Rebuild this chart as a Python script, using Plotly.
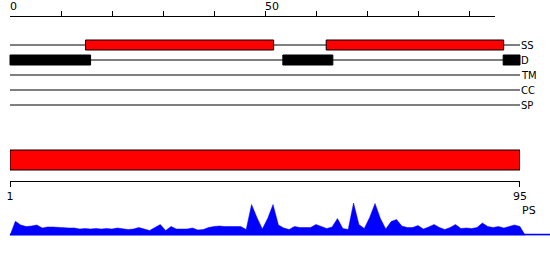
import plotly.graph_objects as go

# ---------------- data ----------------
TRACKS = ["SS", "D", "TM", "CC", "SP"]
SS_START = [14.8, 62.0]
SS_END = [51.7, 96.8]
D_START = [0.0, 53.5, 96.7]
D_END = [15.8, 63.3, 100.0]
TRACK_LEN = 100
RULER_MAX = 95
RULER_TICKS = [0, 10, 20, 30, 40, 50, 60, 70, 80, 90]
RULER_LABELS = [0, 50]
SEQ_START = 1
SEQ_END = 95
PS_POS = list(range(0, 97))
PS_SCORE = [0, 14.3, 10.5, 9, 9.5, 10.5, 7.5, 8.5, 8.5, 8, 7.5, 7.5, 7.5, 6.5, 7,
            6.5, 7, 6.5, 7, 6.5, 7.5, 6.5, 6, 6.5, 8, 6.5, 5, 8, 11, 5, 9,
            6.5, 6.5, 6.5, 7.5, 5.5, 6, 8, 9, 9.5, 9, 9, 9, 9, 6, 31, 18, 6.5,
            17, 31, 10.5, 7.5, 6, 9, 8, 8, 8, 11, 9, 7, 8.5, 17, 7, 6, 32.5,
            11, 7, 18, 32, 17, 6.5, 14, 16, 9.5, 8, 8, 10, 6.5, 8.5, 11, 8, 6,
            8, 11, 7, 7.5, 7, 8, 12.5, 9, 8, 9, 7.5, 9, 10.5, 9, 0]

# ---------------- layout constants ----------------
W, H = 550, 260
LEFT = 10
TRACK_PX = 5.1          # px per track unit
AREA_PX = 5.368         # px per residue in profile
ROW0, ROW_H = 45, 15    # first track row, row spacing
BOX_H = 10
RULER_Y = 15
SEQBAR_Y0, SEQBAR_Y1 = 150, 170
SEQAXIS_Y = 180.5
PS_BASE, PS_TOP = 235.5, 200.5
FONT = "DejaVu Sans"

fig = go.Figure()

# profile area (x4 / y2)
fig.add_trace(go.Scatter(x=PS_POS, y=PS_SCORE, xaxis="x4", yaxis="y2",
                         mode="lines", fill="tozeroy", fillcolor="#0000ff",
                         line=dict(color="#0000ff", width=0.5),
                         hoverinfo="skip", showlegend=False))
# helper traces so the ruler subplots exist
fig.add_trace(go.Scatter(x=RULER_TICKS, y=[0.5] * len(RULER_TICKS), xaxis="x2", yaxis="y3",
                         mode="markers", marker=dict(opacity=0, size=1),
                         hoverinfo="skip", showlegend=False))
fig.add_trace(go.Scatter(x=[SEQ_START, SEQ_END], y=[SEQAXIS_Y, SEQAXIS_Y], xaxis="x3", yaxis="y",
                         mode="markers", marker=dict(opacity=0, size=1),
                         hoverinfo="skip", showlegend=False))
fig.add_trace(go.Scatter(x=[0, TRACK_LEN], y=[ROW0, ROW0], xaxis="x", yaxis="y",
                         mode="markers", marker=dict(opacity=0, size=1),
                         hoverinfo="skip", showlegend=False))

shapes = []
annotations = []
# track lines + labels
for i, name in enumerate(TRACKS):
    yy = ROW0 + i * ROW_H
    shapes.append(dict(type="line", xref="x", yref="y", x0=0, x1=TRACK_LEN, y0=yy, y1=yy,
                       line=dict(color="black", width=1), layer="above"))
    annotations.append(dict(x=TRACK_LEN, y=yy, xref="x", yref="y", text=name, showarrow=False,
                            xanchor="left", yanchor="middle", xshift=-1,
                            font=dict(family=FONT, size=10, color="black")))
# SS boxes
yy = ROW0
for s, e in zip(SS_START, SS_END):
    shapes.append(dict(type="rect", xref="x", yref="y", x0=s, x1=e,
                       y0=yy - BOX_H / 2, y1=yy + BOX_H / 2, fillcolor="#ff0000",
                       line=dict(color="black", width=1), layer="above"))
# D boxes
yy = ROW0 + ROW_H
for s, e in zip(D_START, D_END):
    shapes.append(dict(type="rect", xref="x", yref="y", x0=s, x1=e,
                       y0=yy - BOX_H / 2, y1=yy + BOX_H / 2, fillcolor="black",
                       line=dict(color="black", width=1), layer="above"))
# sequence bar
shapes.append(dict(type="rect", xref="x3", yref="y", x0=SEQ_START, x1=SEQ_END,
                   y0=SEQBAR_Y0, y1=SEQBAR_Y1, fillcolor="#ff0000",
                   line=dict(color="black", width=1), layer="above"))
# profile baseline
x4_max = (W - LEFT) / AREA_PX
shapes.append(dict(type="line", xref="x4", yref="y2", x0=0, x1=x4_max, y0=0.8, y1=0.8,
                   line=dict(color="#0000ff", width=2), layer="above"))

# ruler labels
for v in RULER_LABELS:
    annotations.append(dict(x=v, y=RULER_Y, xref="x2", yref="y", text=str(v), showarrow=False,
                            xanchor="left", yanchor="bottom", xshift=-2,
                            font=dict(family=FONT, size=11, color="black")))
annotations.append(dict(x=SEQ_END, y=210.5, xref="x3", yref="y", text="PS", showarrow=False,
                        xanchor="left", yanchor="middle",
                        font=dict(family=FONT, size=11, color="black")))

fig.update_layout(
    template="none",
    width=W, height=H, margin=dict(l=0, r=0, t=0, b=0, pad=0, autoexpand=False),
    paper_bgcolor="white", plot_bgcolor="rgba(0,0,0,0)", hovermode=False, showlegend=False,
    font=dict(family=FONT, size=11, color="black"),
    xaxis=dict(domain=[0, 1], range=[-LEFT / TRACK_PX, (W - LEFT) / TRACK_PX],
               visible=False, fixedrange=True, automargin=False),
    # ruler: bottom edge of a thin subplot, ticks pointing up (inside)
    xaxis2=dict(domain=[LEFT / W, (LEFT + RULER_MAX * TRACK_PX) / W], range=[0, RULER_MAX],
                anchor="y3", side="bottom",
                showline=True, linecolor="black", linewidth=1,
                ticks="inside", ticklen=5, tickwidth=1, tickcolor="black",
                tickvals=RULER_TICKS, showticklabels=False, showgrid=False, zeroline=False,
                fixedrange=True, automargin=False),
    yaxis3=dict(domain=[1 - (RULER_Y + 0.5) / H, 1 - (RULER_Y - 6) / H], range=[0, 1],
                anchor="x2", visible=False, fixedrange=True, automargin=False),
    xaxis3=dict(domain=[LEFT / W, (LEFT + RULER_MAX * AREA_PX) / W], range=[SEQ_START, SEQ_END],
                anchor="free", position=1 - SEQAXIS_Y / H, side="bottom",
                showline=True, linecolor="black", linewidth=1,
                ticks="outside", ticklen=5, tickwidth=1, tickcolor="black",
                tickvals=[SEQ_START, SEQ_END], ticktext=[str(SEQ_START), str(SEQ_END)],
                tickfont=dict(family=FONT, size=11, color="black"),
                showgrid=False, zeroline=False, fixedrange=True, automargin=False),
    xaxis4=dict(domain=[0, 1], range=[-LEFT / AREA_PX, x4_max], anchor="y2",
                visible=False, fixedrange=True, automargin=False),
    yaxis=dict(domain=[0, 1], range=[H, 0], visible=False, fixedrange=True, automargin=False),
    yaxis2=dict(domain=[(H - PS_BASE) / H, (H - PS_TOP) / H], range=[0, PS_BASE - PS_TOP],
                anchor="x4", visible=False, fixedrange=True, automargin=False),
    shapes=shapes, annotations=annotations,
)

fig.write_html("out.html", config={"displayModeBar": False})
